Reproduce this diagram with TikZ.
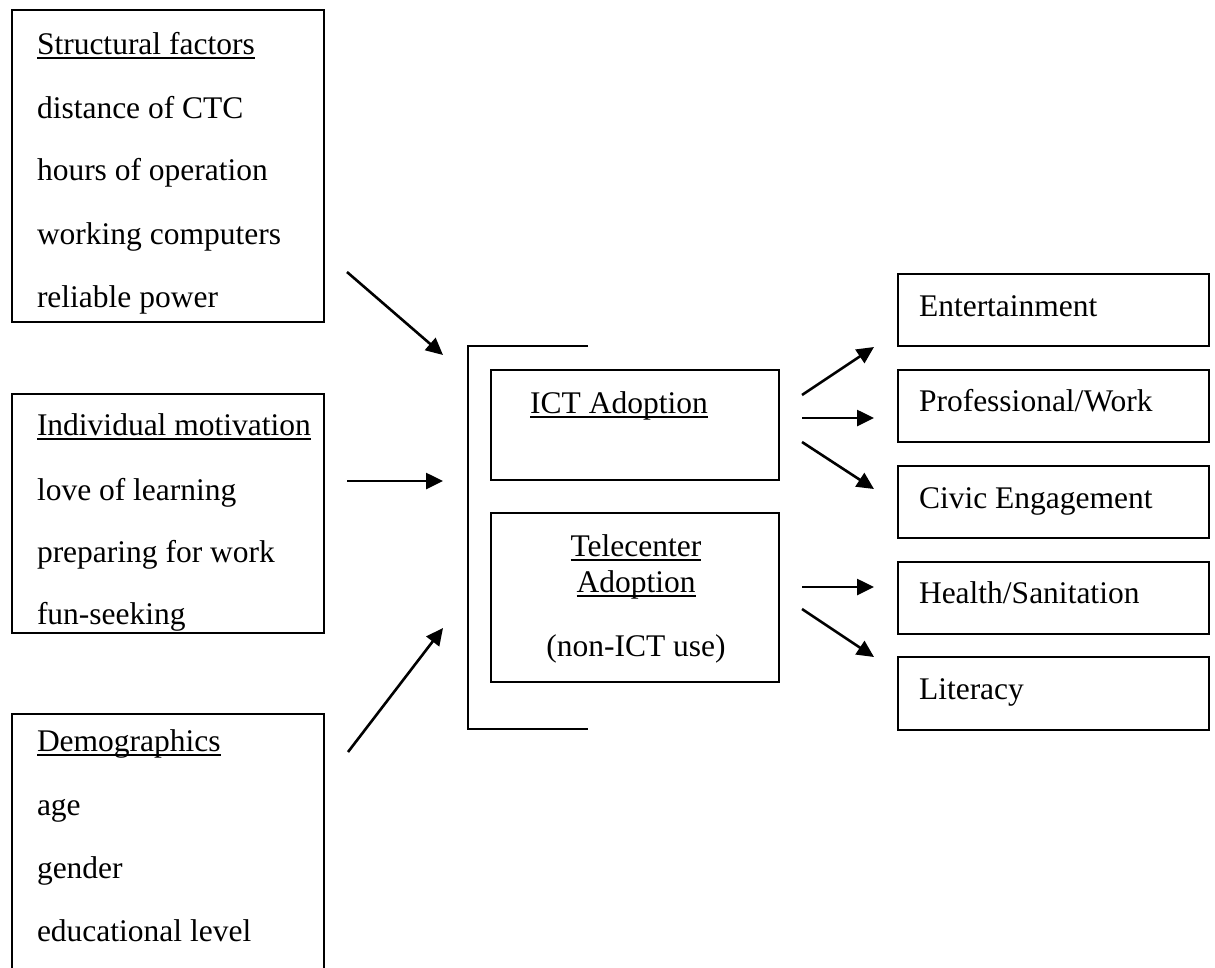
\documentclass[tikz,border=0pt]{standalone}
\usepackage{fontspec}
\setmainfont{Liberation Serif}
\usetikzlibrary{arrows.meta}
\newcommand\myul[1]{{\setbox0\hbox{#1}\rlap{\rule[-4.5pt]{\wd0}{1.6pt}}\box0}}
\begin{document}
\begin{tikzpicture}[x=1pt,y=-1pt,
  every node/.style={font=\fontsize{31.5}{38}\selectfont, inner sep=0pt, outer sep=0pt},
  box/.style={draw, line width=1.5pt, anchor=north west},
  lbl/.style={anchor=base west},
  clbl/.style={anchor=base},
  arr/.style={line width=2.6pt, -{Triangle[length=17pt,width=16pt]}}]
\useasboundingbox (0,0) rectangle (1215,967);
\clip (0,0) rectangle (1215,967);
% left boxes
\node[box, minimum width=312pt, minimum height=312pt] (sf) at (12,10) {};
\node[box, minimum width=312pt, minimum height=239pt] (im) at (12,394) {};
\node[box, minimum width=312pt, minimum height=290pt] (dm) at (12,714) {};
\node[lbl] (sf0) at (37,54) {\myul{Structural factors}};
\node[lbl] (sf1) at (37,118) {distance of CTC};
\node[lbl] (sf2) at (37,180) {hours of operation};
\node[lbl] (sf3) at (37,244) {working computers};
\node[lbl] (sf4) at (37,307) {reliable power};
\node[lbl] (im0) at (37,435) {\myul{Individual motivation}};
\node[lbl] (im1) at (37,500) {love of learning};
\node[lbl] (im2) at (37,562) {preparing for work};
\node[lbl] (im3) at (37,624) {fun-seeking};
\node[lbl] (dm0) at (37,751) {\myul{Demographics}};
\node[lbl] (dm1) at (37,815) {age};
\node[lbl] (dm2) at (37,878) {gender};
\node[lbl] (dm3) at (37,941) {educational level};
% bracket
\coordinate (brT) at (588,346);
\coordinate (brB) at (588,729);
\draw[line width=1.5pt] (brT) -| (468,729) -- (brB);
% middle boxes
\node[box, minimum width=288pt, minimum height=110pt] (ict) at (491,370) {};
\node[box, minimum width=288pt, minimum height=169pt] (tel) at (491,513) {};
\node[clbl] (ict0) at (619,413) {\myul{ICT Adoption}};
\node[clbl] (tel0) at (636,556) {\myul{Telecenter}};
\node[clbl] (tel1) at (636,592) {\myul{Adoption}};
\node[clbl] (tel2) at (636,656) {(non-ICT use)};
% right boxes
\node[box, minimum width=311pt, minimum height=72pt] (ent) at (898,274) {};
\node[box, minimum width=311pt, minimum height=72pt] (pro) at (898,370) {};
\node[box, minimum width=311pt, minimum height=72pt] (civ) at (898,466) {};
\node[box, minimum width=311pt, minimum height=72pt] (hea) at (898,562) {};
\node[box, minimum width=311pt, minimum height=73pt] (lit) at (898,657) {};
\node[lbl] (ent0) at (919,316) {Entertainment};
\node[lbl] (pro0) at (919,411) {Professional/Work};
\node[lbl] (civ0) at (919,508) {Civic Engagement};
\node[lbl] (hea0) at (919,603) {Health/Sanitation};
\node[lbl] (lit0) at (919,699) {Literacy};
% arrow endpoints
\coordinate (a1s) at (347,272); \coordinate (a1e) at (443,355);
\coordinate (a2s) at (347,481); \coordinate (a2e) at (443,481);
\coordinate (a3s) at (348,752); \coordinate (a3e) at (443,628);
\coordinate (b1s) at (802,395); \coordinate (b1e) at (874,347);
\coordinate (b2s) at (802,418); \coordinate (b2e) at (874,418);
\coordinate (b3s) at (802,442); \coordinate (b3e) at (874,489);
\coordinate (b4s) at (802,587); \coordinate (b4e) at (874,587);
\coordinate (b5s) at (802,609); \coordinate (b5e) at (874,657);
\draw[arr] (a1s) -- (a1e);
\draw[arr] (a2s) -- (a2e);
\draw[arr] (a3s) -- (a3e);
\draw[arr] (b1s) -- (b1e);
\draw[arr] (b2s) -- (b2e);
\draw[arr] (b3s) -- (b3e);
\draw[arr] (b4s) -- (b4e);
\draw[arr] (b5s) -- (b5e);
\end{tikzpicture}
\end{document}
